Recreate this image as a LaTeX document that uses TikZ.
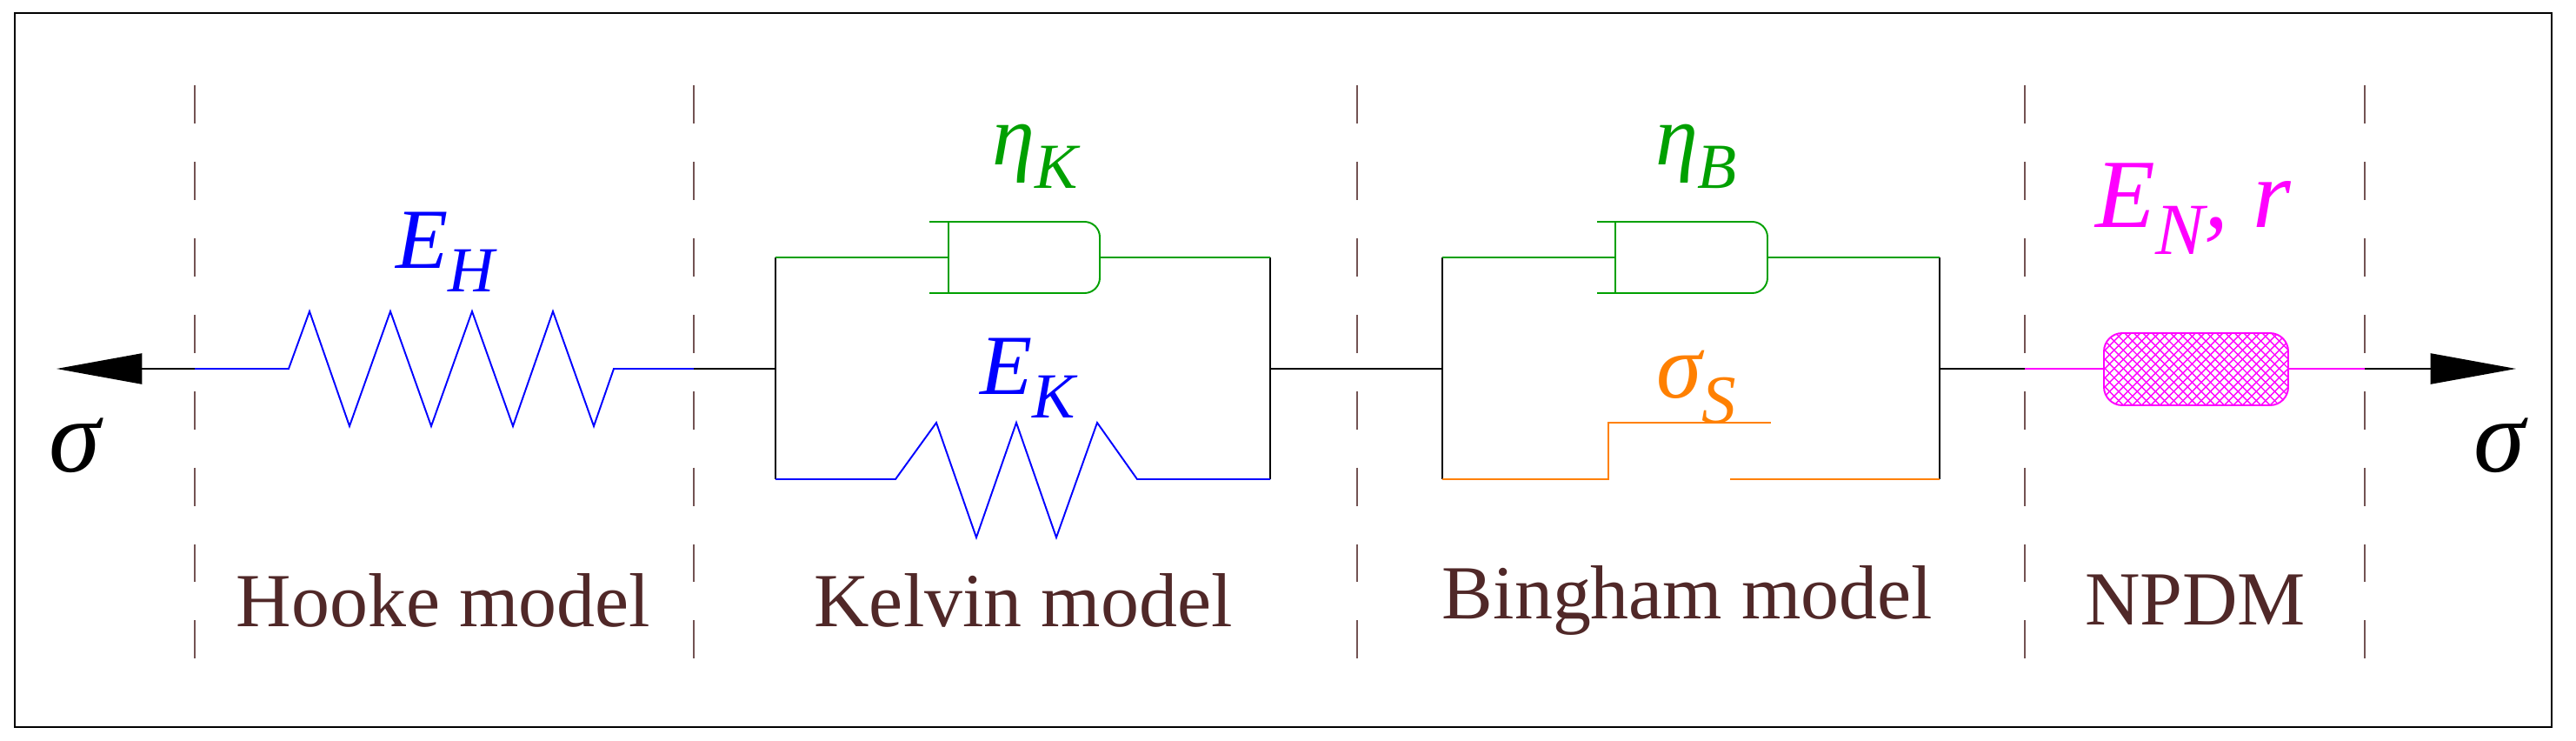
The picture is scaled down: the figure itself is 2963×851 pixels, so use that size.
\documentclass[tikz,border=0pt]{standalone}
\usepackage{fontspec}
\setmainfont{Liberation Serif}
\usetikzlibrary{arrows.meta,patterns}
\definecolor{cblue}{RGB}{0,0,255}
\definecolor{cgreen}{RGB}{0,160,0}
\definecolor{corange}{RGB}{255,128,0}
\definecolor{cmag}{RGB}{255,0,255}
\definecolor{cbrown}{RGB}{80,40,40}
\newcommand\lbl[3]{{\fontsize{#3}{#3}\selectfont\itshape #1\raisebox{-0.6ex}{\fontsize{0.75\dimexpr#3}{#3}\selectfont #2}}}
\begin{document}
\begin{tikzpicture}[x=0.01cm,y=-0.01cm,line width=0.55pt,
  sepline/.style={cbrown!80,line width=0.4pt,dash pattern=on 12.5pt off 12.5pt},
  txt/.style={text=cbrown,font=\fontsize{25}{25}\selectfont,inner sep=0pt},
  arr/.style={-{Triangle[length=28pt,width=10pt]},black}]
\useasboundingbox (0,0) rectangle (2963,851);
\draw[line width=0.6pt] (17,15) rectangle (2935,836);
\foreach \x in {224,798,1561,2329,2720} \draw[sepline] (\x,98) -- (\x,769);
% coordinates
\coordinate (la) at (65,424); \coordinate (h0) at (224,424); \coordinate (h1) at (798,424);
\coordinate (k0) at (892,424); \coordinate (k1) at (1461,424);
\coordinate (b0) at (1659,424); \coordinate (b1) at (2231,424);
\coordinate (n0) at (2329,424); \coordinate (n1) at (2720,424); \coordinate (ra) at (2894,424);
% arrows
\draw[arr] (h0) -- (la);
\draw[arr] (n1) -- (ra);
% Hooke spring
\draw[cblue] (h0) -- (332,424) -- (356,358) -- (402,490) -- (449,358) -- (496,490) -- (543,358) -- (590,490) -- (636,358) -- (683,490) -- (706,424) -- (h1);
\draw (h1) -- (k0); \draw (k1) -- (b0); \draw (b1) -- (n0);
% Kelvin
\draw (892,296) -- (892,551); \draw (1461,296) -- (1461,551);
\draw[cgreen] (892,296) -- (1091,296) (1265,296) -- (1461,296);
\draw[cgreen,rounded corners=5pt] (1069,255) -- (1265,255) -- (1265,337) -- (1069,337);
\draw[cgreen] (1091,255) -- (1091,337);
\draw[cblue] (892,551) -- (1030,551) -- (1077,486) -- (1123,618) -- (1169,486) -- (1215,618) -- (1262,486) -- (1308,551) -- (1461,551);
% Bingham
\draw (1659,296) -- (1659,551); \draw (2231,296) -- (2231,551);
\draw[cgreen] (1659,296) -- (1858,296) (2033,296) -- (2231,296);
\draw[cgreen,rounded corners=5pt] (1837,255) -- (2033,255) -- (2033,337) -- (1837,337);
\draw[cgreen] (1858,255) -- (1858,337);
\draw[corange] (1659,551) -- (1850,551) -- (1850,486) -- (2037,486);
\draw[corange] (1990,551) -- (2231,551);
% NPDM
\draw[cmag] (n0) -- (2420,424) (2632,424) -- (n1);
\fill[pattern=north east lines,pattern color=cmag,rounded corners=6pt] (2420,383) rectangle (2632,466);
\fill[pattern=north west lines,pattern color=cmag,rounded corners=6pt] (2420,383) rectangle (2632,466);
\draw[cmag,rounded corners=6pt] (2420,383) rectangle (2632,466);
% labels
\node[text=cblue,inner sep=0pt] (eh) at (512,290) {\lbl{E}{H}{28pt}};
\node[text=cgreen,inner sep=0pt] (ek) at (1191,180) {\lbl{η}{K}{28pt}};
\node[text=cblue,inner sep=0pt] (Ek) at (1182,435) {\lbl{E}{K}{28pt}};
\node[text=cgreen,inner sep=0pt] (eb) at (1951,180) {\lbl{η}{B}{28pt}};
\node[text=corange,inner sep=0pt] (ss) at (1951,445) {\lbl{σ}{S}{30pt}};
\node[text=cmag,inner sep=0pt] (en) at (2523,240) {{\fontsize{32}{32}\selectfont\itshape E\raisebox{-0.6ex}{\fontsize{24}{24}\selectfont N}, r}};
\node[inner sep=0pt,font=\fontsize{34}{34}\selectfont\itshape] (s1) at (86,512) {σ};
\node[inner sep=0pt,font=\fontsize{34}{34}\selectfont\itshape] (s2) at (2875,512) {σ};
\node[txt] (t1) at (510,690) {Hooke model};
\node[txt] (t2) at (1177,690) {Kelvin model};
\node[txt] (t3) at (1941,690) {Bingham model};
\node[txt] (t4) at (2525,690) {NPDM};
\end{tikzpicture}
\end{document}
